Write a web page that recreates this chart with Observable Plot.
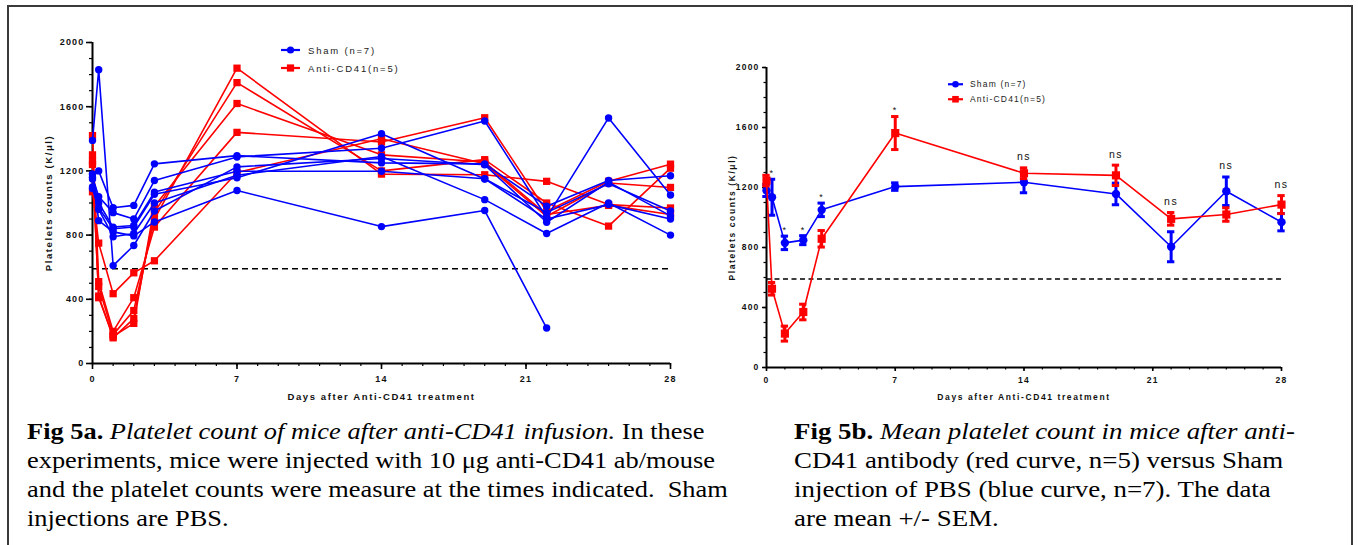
<!DOCTYPE html>
<html>
<head>
<meta charset="utf-8">
<script src="https://cdn.jsdelivr.net/npm/d3@7"></script>
<script src="https://cdn.jsdelivr.net/npm/@observablehq/plot@0.6"></script>
<style>
  html, body { margin: 0; padding: 0; background: #fff; }
  #page { position: relative; width: 1358px; height: 545px; overflow: hidden; background: #fff; }
  #border { position: absolute; left: 7px; top: 5px; width: 1346px; height: 620px; border: 2px solid #3a3a3a; box-sizing: border-box; }
  .panel { position: absolute; }
  .panel svg { overflow: visible; }
  .panel svg text { font-family: Arial, "Liberation Sans", sans-serif; fill: #111; }
  g[aria-label="y-axis tick label"] text, g[aria-label="x-axis tick label"] text { letter-spacing: 1.2px; }
  .axlabel text { letter-spacing: 1.6px; }
  .ann text { letter-spacing: 1.5px; }
  .caption { position: absolute; font-family: "Liberation Serif", "Times New Roman", serif; font-size: 24px; line-height: 29px; color: #000; white-space: nowrap; transform-origin: 0 0; }
  .legend { position: absolute; font-family: Arial, "Liberation Sans", sans-serif; color: #222; }
  .legend .row { display: flex; align-items: center; white-space: nowrap; }
  .legend svg { display: block; }
</style>
</head>
<body>
<div id="page">
  <div id="border"></div>
  <div id="panelA" class="panel" style="left:20px; top:30px;"></div>
  <div id="panelB" class="panel" style="left:715px; top:55px;"></div>
  <div id="legendA" class="legend" style="left:281px; top:41px;"></div>
  <div id="legendB" class="legend" style="left:948px; top:77px;"></div>
  <div class="caption" style="left:27px; top:417px; transform: scaleX(1.1);">
    <b>Fig 5a.</b> <i>Platelet count of mice after anti-CD41 infusion.</i> In these<br>
    experiments, mice were injected with 10 μg anti-CD41 ab/mouse<br>
    and the platelet counts were measure at the times indicated.&nbsp; Sham<br>
    injections are PBS.
  </div>
  <div class="caption" style="left:794px; top:417px; transform: scaleX(1.12);">
    <b>Fig 5b.</b> <i>Mean platelet count in mice after anti-</i><br>
    CD41 antibody (red curve, n=5) versus Sham<br>
    injection of PBS (blue curve, n=7). The data<br>
    are mean +/- SEM.
  </div>
</div>
<script>
// ---------- data ----------
const days = [0, 0.3, 1, 2, 3, 7, 14, 19, 22, 25, 28];
const groups = ["Sham", "Anti-CD41"];
const legendLabels = ["Sham (n=7)", "Anti-CD41(n=5)"];
const colors = ["#0000ff", "#ff0000"];

// individual Sham mice (K/µl)
const sham1 = [1390, 1830, 610, 735, 950, 1225, 1277, 1238, 880, 1130, 920];
const sham2 = [1180, 1200, 970, 985, 1244, 1295, 1250, 1244, 980, 1140, 1170];
const sham3 = [1160, 1040, 940, 900, 1140, 1287, 1341, 1511, 910, 1530, 1050];
const sham4 = [1150, 1000, 850, 860, 1068, 1198, 1198, 1151, 940, 1120, 950];
const sham5 = [1100, 970, 840, 850, 1054, 1157, 1432, 1150, 900, 990, 900];
const sham6 = [1090, 960, 790, 810, 1000, 1173, 1290, 1021, 810, 1000, 800];
const sham7 = [1180, 890, 820, 795, 882, 1078, 853, 953, 221, null, null];

// individual Anti-CD41 mice (K/µl)
const anti1 = [1070, 750, 435, 565, 640, 1190, 1400, 1245, 917, 1125, 1097];
const anti2 = [1420, 510, 200, 410, 850, 1440, 1380, 1531, 949, 1135, 1242];
const anti3 = [1300, 480, 180, 330, 900, 1840, 1180, 1176, 1135, 990, 969];
const anti4 = [1260, 420, 160, 280, 940, 1750, 1200, 1270, 1000, 856, 1217];
const anti5 = [1240, 410, 170, 250, 980, 1620, 1300, 1255, 928, 985, 928];

// group means +/- SEM (panel b)
const shamMean = [1180, 1135, 831, 849, 1051, 1206, 1235, 1157, 805, 1175, 969];
const shamSem  = [40, 120, 45, 30, 45, 25, 70, 72, 100, 95, 58];
const antiMean = [1246, 525, 226, 370, 858, 1563, 1295, 1281, 991, 1020, 1086];
const antiSem  = [35, 42, 50, 52, 55, 110, 36, 68, 42, 45, 60];
const significance = ["", "*", "*", "*", "*", "*", "ns", "ns", "ns", "ns", "ns"];

const threshold = 590;
const xDomain = [0, 28];
const yDomain = [0, 2000];
const xMajor = [0, 7, 14, 21, 28];
const xMinor = d3.range(0, 29, 1);
const yMajor = [0, 400, 800, 1200, 1600, 2000];
const yMinor = d3.range(0, 2001, 100);
const yTitle = "Platelets counts (K/\u03bcl)";
const xTitle = "Days after Anti-CD41 treatment";

// ---------- tables ----------
function mouseRows(series, group, prefix) {
  const rows = [];
  series.forEach((vals, i) => vals.forEach((v, j) => {
    if (v != null) rows.push({group, mouse: prefix + (i + 1), day: days[j], count: v});
  }));
  return rows;
}
const shamRows = mouseRows([sham1, sham2, sham3, sham4, sham5, sham6, sham7], groups[0], "S");
const antiRows = mouseRows([anti1, anti2, anti3, anti4, anti5], groups[1], "A");

function meanRows(means, sems, group) {
  return means.map((m, j) => ({group, day: days[j], mean: m, lo: m - sems[j], hi: m + sems[j]}));
}
const shamMeanRows = meanRows(shamMean, shamSem, groups[0]);
const antiMeanRows = meanRows(antiMean, antiSem, groups[1]);
const annRows = days.map((d, j) => ({
  day: d, label: significance[j],
  top: Math.max(shamMean[j] + shamSem[j], antiMean[j] + antiSem[j])
})).filter(r => r.label);

// ---------- shared axis marks ----------
function axes(o) {
  return [
    Plot.axisY(yMinor, {tickSize: o.minor, tickFormat: () => "", strokeWidth: 1.2, label: null}),
    Plot.axisX(xMinor, {tickSize: o.minor, tickFormat: () => "", strokeWidth: 1.2, label: null}),
    Plot.axisY(yMajor, {tickSize: o.major, tickPadding: o.ypad, strokeWidth: 1.6, label: null,
      tickFormat: d => String(d), fontSize: o.font, fontWeight: "bold"}),
    Plot.axisX(xMajor, {tickSize: o.major, tickPadding: o.xpad, strokeWidth: 1.6, label: null,
      tickFormat: d => String(d), fontSize: o.font, fontWeight: "bold"}),
    Plot.ruleX([xDomain[0]], {stroke: "#000", strokeWidth: 2}),
    Plot.ruleY([yDomain[0]], {stroke: "#000", strokeWidth: 2}),
    Plot.text([yTitle], {frameAnchor: "left", rotate: -90, dx: o.ytdx, fontSize: o.tfont,
      textAnchor: "middle", lineAnchor: "middle", fontWeight: "bold", className: "axlabel"}),
    Plot.text([xTitle], {frameAnchor: "bottom", dy: o.xtdy, fontSize: o.tfont,
      textAnchor: "middle", lineAnchor: "middle", fontWeight: "bold", className: "axlabel"})
  ];
}

// ---------- panel a ----------
const plotA = Plot.plot({
  width: 680, height: 370,
  marginLeft: 72, marginRight: 30, marginTop: 12, marginBottom: 37,
  x: {domain: xDomain, axis: null},
  y: {domain: yDomain, axis: null},
  color: {domain: groups, range: colors},
  style: {background: "transparent", overflow: "visible"},
  marks: [
    Plot.ruleY([threshold], {stroke: "#000", strokeWidth: 1.6, strokeDasharray: "6,4"}),
    ...axes({minor: 3, major: 6, ypad: 2, xpad: 6, font: 9, tfont: 9.5, ytdx: -44, xtdy: 33}),
    Plot.line(antiRows, {x: "day", y: "count", z: "mouse", stroke: "group", strokeWidth: 1.6}),
    Plot.dot(antiRows, {x: "day", y: "count", fill: "group", symbol: "square", r: 4.1}),
    Plot.line(shamRows, {x: "day", y: "count", z: "mouse", stroke: "group", strokeWidth: 1.6}),
    Plot.dot(shamRows, {x: "day", y: "count", fill: "group", r: 3.7})
  ]
});
document.getElementById("panelA").append(plotA);

// ---------- panel b ----------
const capHalf = 0.2;
function meanMarks(rows, symbol, r) {
  return [
    Plot.line(rows, {x: "day", y: "mean", stroke: "group", strokeWidth: 1.6}),
    Plot.ruleX(rows, {x: "day", y1: "lo", y2: "hi", stroke: "group", strokeWidth: 3}),
    Plot.ruleY(rows, {y: "hi", x1: d => d.day - capHalf, x2: d => d.day + capHalf, stroke: "group", strokeWidth: 3}),
    Plot.ruleY(rows, {y: "lo", x1: d => d.day - capHalf, x2: d => d.day + capHalf, stroke: "group", strokeWidth: 3}),
    Plot.dot(rows, {x: "day", y: "mean", fill: "group", symbol, r})
  ];
}
const plotB = Plot.plot({
  width: 590, height: 350,
  marginLeft: 51, marginRight: 24, marginTop: 12, marginBottom: 38,
  x: {domain: xDomain, axis: null},
  y: {domain: yDomain, axis: null},
  color: {domain: groups, range: colors},
  style: {background: "transparent", overflow: "visible"},
  marks: [
    Plot.ruleY([threshold], {stroke: "#000", strokeWidth: 1.6, strokeDasharray: "5,3.5"}),
    ...axes({minor: 2.5, major: 4, ypad: 3, xpad: 5, font: 8.5, tfont: 8.5, ytdx: -34, xtdy: 30}),
    ...meanMarks(shamMeanRows, "circle", 4.2),
    ...meanMarks(antiMeanRows, "square", 4.6),
    Plot.text(annRows.filter(d => d.label === "*"), {x: "day", y: "top", text: "label", dy: -6, fontSize: 9, className: "ann"}),
    Plot.text(annRows.filter(d => d.label !== "*"), {x: "day", y: "top", text: "label", dy: -11, fontSize: 10.5, className: "ann"})
  ]
});
document.getElementById("panelB").append(plotB);

// ---------- legends ----------
function buildLegend(id, o) {
  const el = document.getElementById(id);
  groups.forEach((g, i) => {
    const row = document.createElement("div");
    row.className = "row";
    row.style.height = o.rowH + "px";
    const w = o.symW, h = o.rowH, c = colors[i];
    const sym = i === 0
      ? `<circle cx="${w / 2}" cy="${h / 2}" r="${o.r}" fill="${c}"/>`
      : `<rect x="${w / 2 - o.r}" y="${h / 2 - o.r}" width="${2 * o.r}" height="${2 * o.r}" fill="${c}"/>`;
    row.innerHTML = `<svg width="${w}" height="${h}"><line x1="0" x2="${w}" y1="${h / 2}" y2="${h / 2}" stroke="${c}" stroke-width="2.2"/>${sym}</svg>` +
      `<span style="margin-left:${o.gap}px;font-size:${o.font}px;letter-spacing:${o.ls}px">${legendLabels[i]}</span>`;
    el.append(row);
  });
}
buildLegend("legendA", {rowH: 18, symW: 19, r: 3.6, gap: 8, font: 9.5, ls: 1.8});
buildLegend("legendB", {rowH: 14.5, symW: 15, r: 3.3, gap: 7, font: 8.5, ls: 1.2});
</script>
</body>
</html>
